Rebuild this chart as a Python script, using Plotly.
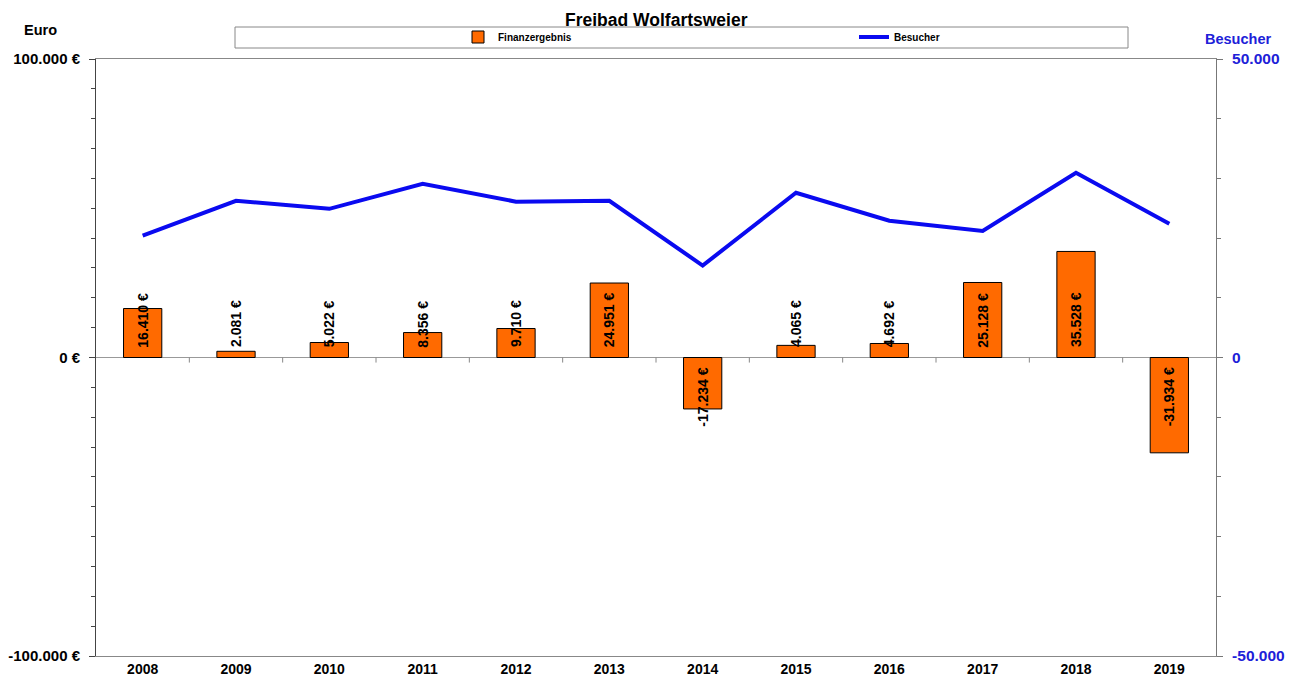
import plotly.graph_objects as go

years = ["2008", "2009", "2010", "2011", "2012", "2013", "2014", "2015", "2016", "2017", "2018", "2019"]
finanzergebnis = [16410, 2081, 5022, 8356, 9710, 24951, -17234, 4065, 4692, 25128, 35528, -31934]
besucher = [20400, 26250, 24900, 29100, 26100, 26250, 15400, 27600, 22900, 21200, 30950, 22400]

left_ticks = [-100000, 0, 100000]
left_ticktext = ["-100.000 €", "0 €", "100.000 €"]
right_ticks = [-50000, 0, 50000]
right_ticktext = ["-50.000", "0", "50.000"]

FONT = "Liberation Sans, Arial, sans-serif"
ORANGE = "#ff6a00"
BLUE = "#0a0af0"
LBLUE = "#2020d8"

OFF = 8  # page offset (body margin) of the plot div
W, H = 1295 - OFF, 682 - OFF
PL, PT = 96, 59          # plot-area top-left in screenshot pixels
PW, PH = 1120, 597
L, T = PL - OFF, PT - OFF
R, B = W - L - PW, H - T - PH


def px(xp):
    return (xp - PL) / PW


def py(yp):
    return (PT + PH - yp) / PH


fig = go.Figure()
fig.add_trace(go.Bar(
    x=years, y=finanzergebnis, name="Finanzergebnis", width=0.41,
    marker=dict(color=ORANGE, line=dict(color="#000000", width=1)),
))
fig.add_trace(go.Scatter(
    x=years, y=besucher, name="Besucher", mode="lines",
    line=dict(color=BLUE, width=4), yaxis="y2",
))

annotations = []
for i, v in enumerate(finanzergebnis):
    txt = f"{v:,}".replace(",", ".") + " €"
    annotations.append(dict(
        x=i, y=0, xref="x", yref="y", text=txt, showarrow=False, textangle=-90,
        xanchor="center", yanchor="bottom" if v >= 0 else "top",
        yshift=8 if v >= 0 else -8,
        font=dict(family=FONT, size=14, color="#000000", weight="bold"),
    ))
annotations += [
    dict(x=0.5, y=py(8.5), xref="paper", yref="paper", text="Freibad Wolfartsweier",
         xanchor="center", yanchor="top", showarrow=False, borderpad=0,
         font=dict(family=FONT, size=17.5, color="#000", weight="bold")),
    dict(x=px(40), y=py(30), xref="paper", yref="paper", text="Euro",
         xanchor="center", yanchor="middle", showarrow=False,
         font=dict(family=FONT, size=14.5, color="#000", weight="bold")),
    dict(x=px(1238), y=py(39), xref="paper", yref="paper", text="Besucher",
         xanchor="center", yanchor="middle", showarrow=False,
         font=dict(family=FONT, size=14.5, color=LBLUE, weight="bold")),
]

shapes = [dict(type="rect", xref="paper", yref="paper", x0=px(235), x1=px(1128),
               y0=py(48), y1=py(27), line=dict(color="#888", width=1))]
# small category-boundary ticks on the zero line
for i in range(len(years) - 1):
    shapes.append(dict(type="line", xref="x", yref="y", x0=i + 0.5, x1=i + 0.5,
                       y0=0, y1=-1700, line=dict(color="#888", width=1)))

fig.update_layout(
    width=W, height=H,
    margin=dict(l=L, r=R, t=T, b=B, autoexpand=False),
    paper_bgcolor="white", plot_bgcolor="white",
    font=dict(family=FONT, size=14, color="#000"),
    showlegend=True,
    legend=dict(orientation="h", x=px(458), xanchor="left", y=py(37), yanchor="middle",
                entrywidth=351, entrywidthmode="pixels", bgcolor="rgba(0,0,0,0)",
                font=dict(family=FONT, size=10, color="#000", weight="bold")),
    annotations=annotations,
    shapes=shapes,
    xaxis=dict(type="category", categoryorder="array", categoryarray=years,
               range=[-0.5, 11.5], showline=True, linecolor="#888", linewidth=1,
               mirror=True, ticks="", showgrid=False, zeroline=False, automargin=False,
               tickfont=dict(family=FONT, size=14, color="#000", weight="bold")),
    yaxis=dict(range=[-100000, 100000], tickvals=left_ticks, ticktext=left_ticktext,
               showline=True, linecolor="#444", linewidth=1, ticks="outside", ticklen=6,
               tickcolor="#444", showgrid=False, zeroline=True, zerolinecolor="#999",
               zerolinewidth=1, ticklabelstandoff=6, automargin=False,
               minor=dict(dtick=10000, ticks="outside", ticklen=4, tickcolor="#444", showgrid=False),
               tickfont=dict(family=FONT, size=15, color="#000", weight="bold")),
    yaxis2=dict(range=[-50000, 50000], tickvals=right_ticks, ticktext=right_ticktext,
                overlaying="y", side="right", showline=True, linecolor="#777", linewidth=1,
                ticks="outside", ticklen=6, tickcolor="#777", showgrid=False, zeroline=False,
                ticklabelstandoff=6, automargin=False,
                minor=dict(dtick=10000, ticks="outside", ticklen=4, tickcolor="#777", showgrid=False),
                tickfont=dict(family=FONT, size=15.5, color=LBLUE, weight="bold")),
)

fig.write_html("out.html")
